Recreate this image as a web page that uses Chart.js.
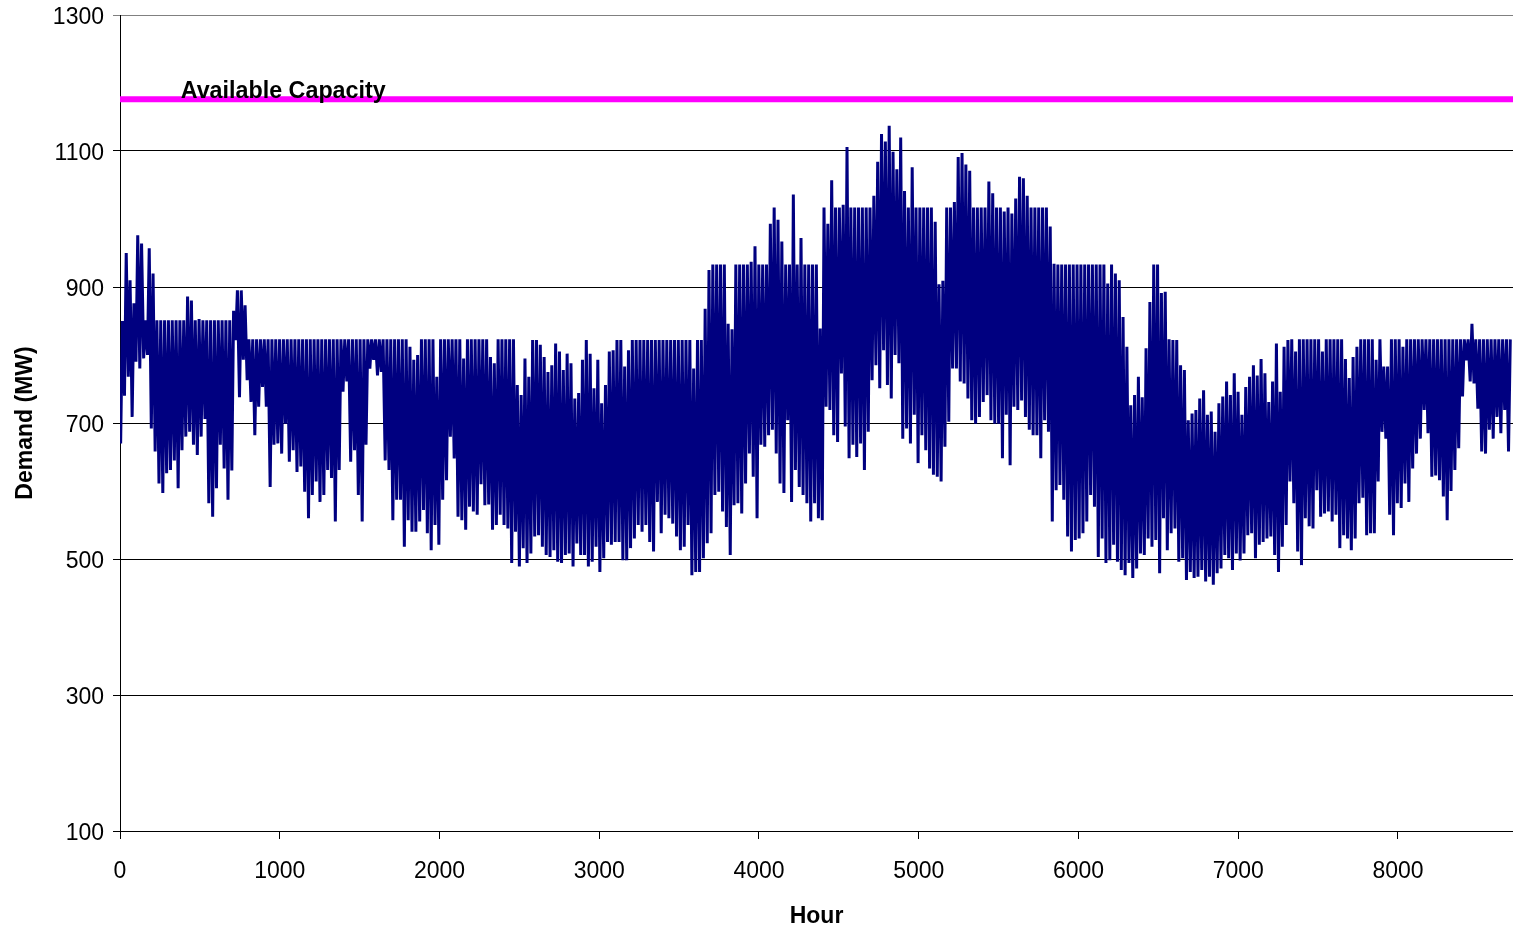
<!DOCTYPE html>
<html><head><meta charset="utf-8">
<script src="https://cdn.jsdelivr.net/npm/chart.js@4"></script>
<style>html,body{margin:0;padding:0;background:#fff;} #wrap{width:1513px;height:927px;}</style>
</head><body><div id="wrap"><canvas id="c" width="1513" height="927"></canvas></div>
<script>
const xTicks = [0, 1000, 2000, 3000, 4000, 5000, 6000, 7000, 8000];
const yTicks = [100, 300, 500, 700, 900, 1100, 1300];
const hourRange = [0, 8720];
const demandRange = [100, 1300];
const availableCapacity = 1176;
const capacityLabel = 'Available Capacity';
const capacityLabelHour = 380;
const xTitle = 'Hour';
const yTitle = 'Demand (MW)';

// daily peak demand (MW), day 0 .. 362
const dailyPeak = [
850,950,910,876,976,964,851,957,920,851,
851,851,851,851,851,851,851,886,880,851,
853,851,851,851,851,851,851,851,851,865,
895,895,873,823,823,823,823,823,823,823,
823,823,823,823,823,823,823,823,823,823,
823,823,823,823,823,823,823,823,823,823,
823,823,823,823,823,823,823,823,823,823,
823,823,823,823,823,812,793,800,823,823,
823,823,768,823,823,823,823,823,823,795,
823,823,823,823,823,823,797,788,823,823,
823,823,823,756,741,795,768,822,822,815,
797,775,785,817,805,778,802,788,736,744,
793,822,802,751,793,729,756,805,807,822,
822,783,807,822,822,822,822,822,822,822,
822,822,822,822,822,822,822,822,822,780,
822,822,868,925,933,933,933,933,846,838,
933,933,933,933,937,960,933,933,933,993,
1017,999,967,933,933,1036,933,972,933,933,
933,933,839,1017,993,1057,1017,1017,1021,1106,
1017,1017,1017,1017,1017,1017,1034,1084,1125,1114,
1137,1099,1073,1120,1041,1017,1076,1017,1017,1017,
1017,1017,996,904,909,1017,1017,1025,1091,1097,
1080,1071,1017,1017,1017,1017,1055,1038,1017,1017,
1011,1017,1008,1030,1062,1060,1034,1017,1017,1017,
1017,1017,989,934,933,933,933,933,933,933,
933,933,933,933,933,933,933,905,933,920,
910,856,812,726,741,768,738,810,878,933,
933,891,893,823,822,822,785,778,704,714,
719,736,748,712,717,687,729,739,761,741,
773,746,712,753,768,785,770,794,773,731,
761,817,746,812,822,823,805,823,823,823,
823,823,823,805,823,823,823,823,823,794,
766,797,812,823,823,823,823,793,823,783,
783,823,823,823,812,823,823,823,823,823,
823,823,823,823,823,823,823,823,823,823,
823,823,846,823,823,823,823,823,823,823,
823,823,823
];

// daily low demand (MW), day 0 .. 362
const dailyLow = [
670,740,768,709,790,780,795,800,692,658,
611,597,626,631,645,604,660,680,687,668,
653,680,706,582,562,604,668,633,587,630,
822,738,793,763,731,682,724,753,724,606,
668,670,655,699,643,660,628,636,599,560,
594,614,584,594,631,619,555,631,746,761,
643,660,594,555,668,780,793,770,775,645,
631,557,587,587,518,557,540,540,555,572,
538,513,550,521,587,616,680,648,562,557,
543,577,570,565,610,579,580,543,550,565,
550,545,494,540,489,516,494,508,533,535,
518,506,503,513,496,494,506,508,489,523,
506,506,489,496,518,481,501,525,521,525,
525,498,498,516,530,550,540,550,525,511,
584,538,565,560,552,533,513,518,550,476,
481,481,501,523,538,594,599,570,547,506,
579,582,567,611,655,621,560,668,665,682,
690,655,611,597,704,584,631,606,594,582,
555,582,560,557,724,719,682,672,773,695,
648,668,650,670,631,687,763,785,751,807,
756,736,800,788,677,692,670,712,641,682,
660,633,624,621,614,665,702,780,780,761,
758,736,704,699,709,731,741,704,699,699,
648,712,638,724,719,733,709,690,682,682,
648,704,687,555,601,609,587,533,511,528,
530,538,555,594,577,503,530,494,498,521,
496,484,476,494,472,486,508,506,530,518,
528,479,560,513,538,545,496,501,469,481,
472,474,484,467,474,462,479,486,506,501,
484,508,498,508,535,538,501,521,525,530,
533,506,481,518,550,614,582,511,491,560,
548,545,601,562,567,570,555,565,516,535,
530,513,530,582,590,535,538,538,614,687,
677,565,535,582,575,611,584,633,655,677,
719,685,621,623,616,592,557,600,631,663,
739,792,761,758,721,658,655,690,677,709,
685,719,658
];

const demandPoints = [];
dailyLow.forEach((lo, d) => {
  demandPoints.push({x: d * 24 + 4, y: lo});
  demandPoints.push({x: d * 24 + 15, y: dailyPeak[d]});
});
const capacityPoints = [{x: hourRange[0], y: availableCapacity}, {x: hourRange[1], y: availableCapacity}];

const FAMILY = '"Liberation Sans", Arial, Helvetica, sans-serif';
Chart.defaults.font.family = FAMILY;
Chart.defaults.color = '#000';

const capLabelPlugin = {
  id: 'capLabel',
  afterDatasetsDraw(chart) {
    const {ctx, scales} = chart;
    ctx.save();
    ctx.font = 'bold 23.3px ' + FAMILY;
    ctx.fillStyle = '#000';
    ctx.textBaseline = 'alphabetic';
    ctx.textAlign = 'left';
    ctx.fillText(capacityLabel, scales.x.getPixelForValue(capacityLabelHour), scales.y.getPixelForValue(availableCapacity) - 1);
    ctx.restore();
  }
};

new Chart(document.getElementById('c'), {
  type: 'line',
  data: {
    datasets: [
      {label: 'Demand', data: demandPoints, borderColor: '#000080', borderWidth: 3, pointRadius: 0, tension: 0, fill: false},
      {label: 'Available Capacity', data: capacityPoints, borderColor: '#FF00FF', borderWidth: 6, pointRadius: 0, fill: false}
    ]
  },
  options: {
    responsive: false,
    animation: false,
    events: [],
    layout: {padding: {top: 15, right: 0, bottom: 0, left: 0}},
    plugins: {legend: {display: false}, tooltip: {enabled: false}},
    scales: {
      x: {
        type: 'linear', min: hourRange[0], max: hourRange[1],
        afterBuildTicks: s => { s.ticks = xTicks.map(v => ({value: v})); },
        afterFit: s => { s.height = 96; s.paddingLeft = 0; s.paddingRight = 0; },
        grid: {drawOnChartArea: false, drawTicks: true, tickLength: 8, color: '#000'},
        border: {color: '#000', width: 1},
        ticks: {color: '#000', font: {size: 23}, padding: 19, maxRotation: 0, autoSkip: false, callback: v => String(v)},
        title: {display: true, text: xTitle, color: '#000', font: {size: 23, weight: 'bold'}, padding: {top: 0, bottom: -3}, align: 'center'}
      },
      y: {
        type: 'linear', min: demandRange[0], max: demandRange[1],
        afterBuildTicks: s => { s.ticks = yTicks.map(v => ({value: v})); },
        afterFit: s => { s.width = 120; s.paddingTop = 0; s.paddingBottom = 0; },
        grid: {color: c => (c.tick && c.tick.value === 1300) ? '#808080' : '#000', tickLength: 7, lineWidth: 1},
        border: {color: '#000', width: 1},
        ticks: {color: '#000', font: {size: 23}, padding: 9, labelOffset: 3, callback: v => String(v)},
        title: {display: true, text: yTitle, color: '#000', font: {size: 23, weight: 'bold'}, padding: {top: 12, bottom: 0}}
      }
    }
  },
  plugins: [capLabelPlugin]
});
</script>
</body></html>
